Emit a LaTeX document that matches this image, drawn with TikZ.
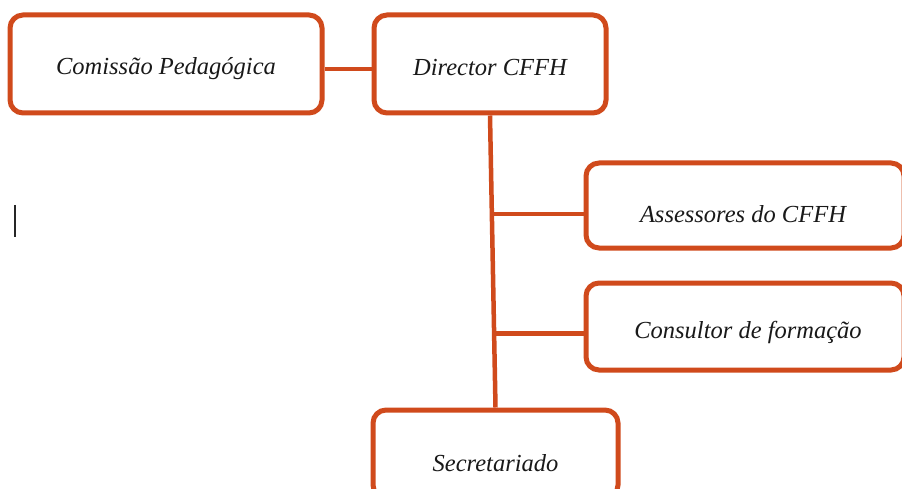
\documentclass[tikz,border=0pt]{standalone}
\usepackage{fontspec}
\setmainfont{Liberation Serif}
\usetikzlibrary{calc}
\definecolor{boxorange}{RGB}{208,74,28}
\tikzset{
  orgbox/.style={draw=boxorange, line width=5pt, rounded corners=13pt, fill=white, inner sep=0pt},
  lbl/.style={font=\fontsize{24.5}{27}\selectfont\itshape, text=black!90},
  conn/.style={draw=boxorange, line width=4.5pt}
}
\begin{document}
\begin{tikzpicture}[x=1pt,y=-1pt]
\useasboundingbox (0,0) rectangle (902,489);
\clip (0,0) rectangle (902,489);
\node[orgbox, minimum width=312pt, minimum height=98pt, label={[lbl,yshift=-5pt]center:Comissão Pedagógica}] (C) at (166,64) {};
\node[orgbox, minimum width=232pt, minimum height=98pt, label={[lbl,yshift=-4pt]center:Director CFFH}] (D) at (490,64) {};
\node[orgbox, minimum width=318pt, minimum height=85pt, label={[lbl,yshift=-9pt,xshift=-2pt]center:Assessores do CFFH}] (A) at (745,205.5) {};
\node[orgbox, minimum width=318pt, minimum height=87pt, label={[lbl,yshift=-6pt,xshift=3pt]center:Consultor de formação}] (K) at (745,326.5) {};
\node[orgbox, minimum width=245pt, minimum height=88pt, label={[lbl,yshift=-9pt]center:Secretariado}] (S) at (495.5,454) {};
\coordinate (b1) at ($(D.south)!0.337!(S.north)$);
\coordinate (b2) at ($(D.south)!0.747!(S.north)$);
\draw[conn] ([yshift=-5pt]C.east) -- ([yshift=-5pt]D.west);
\draw[conn] (D.south) -- (S.north);
\draw[conn] (b1) -- (b1 -| A.west);
\draw[conn] (b2) -- (b2 -| K.west);
\coordinate (cur1) at (15,205);
\coordinate (cur2) at (15,237);
\draw[black!85, line width=2.5pt] (cur1) -- (cur2);
\end{tikzpicture}
\end{document}
